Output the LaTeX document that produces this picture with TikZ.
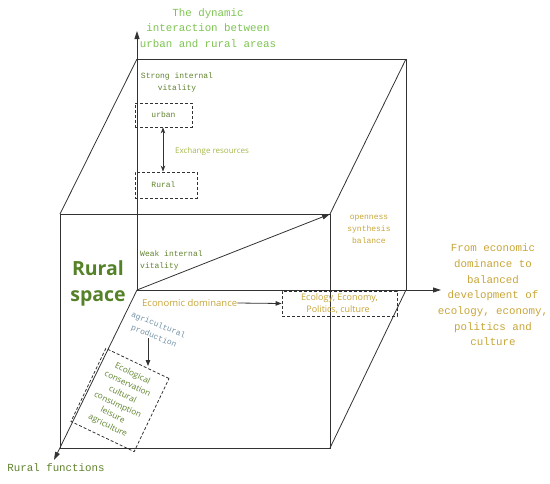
\documentclass[tikz,border=0pt]{standalone}
\usepackage{fontspec}
\setmainfont{Open Sans}
\newfontfamily\monof{Liberation Mono}
\usetikzlibrary{arrows.meta}
\definecolor{linec}{RGB}{50,50,50}
\definecolor{titleg}{RGB}{125,195,80}
\definecolor{oliveg}{RGB}{95,130,45}
\definecolor{darkg}{RGB}{85,130,40}
\definecolor{yellg}{RGB}{165,185,75}
\definecolor{goldc}{RGB}{200,165,55}
\definecolor{steelc}{RGB}{115,145,165}
\tikzset{
  edge/.style={draw=linec, line width=0.8pt},
  axis/.style={edge, -{Triangle[length=8pt,width=5pt]}},
  dbox/.style={draw=linec, dashed, dash pattern=on 3pt off 2pt, line width=0.8pt, inner sep=0pt, align=center},
  monotxt/.style={font=\monof\fontsize{8}{12}\selectfont, align=center, inner sep=0pt},
  bigmono/.style={font=\monof\fontsize{10.8}{15.7}\selectfont, align=center, inner sep=0pt},
  sanstxt/.style={font=\fontsize{8.5}{11}\selectfont, align=center, inner sep=0pt},
}
\begin{document}
\begin{tikzpicture}[x=1pt,y=-1pt]
\useasboundingbox (0,0) rectangle (550,483);
% cube corners
\coordinate (O) at (137,290);
\coordinate (Btl) at (137,59);
\coordinate (Btr) at (406,59);
\coordinate (Bbr) at (406,290);
\coordinate (Ftl) at (60,214);
\coordinate (Ftr) at (330,214);
\coordinate (Fbr) at (330,448);
\coordinate (Fbl) at (60,448);
\coordinate (Ytip) at (137,31);
\coordinate (Xtip) at (441,290);
\coordinate (Ztip) at (54,460);
% cube edges
\draw[edge] (Btl) -- (Btr) -- (Bbr);
\draw[edge] (Ftl) rectangle (Fbr);
\draw[edge] (Btl) -- (Ftl);
\draw[edge] (Btr) -- (Ftr);
\draw[edge] (Bbr) -- (Fbr);
% axes
\draw[axis] (O) -- (Ytip);
\draw[axis] (O) -- (Xtip);
\draw[axis] (O) -- (Ztip);
\draw[axis] (O) -- (Ftr);
% axis labels
\node[bigmono, text=titleg] (title) at (208,28) {The dynamic\\interaction between\\urban and rural areas};
\node[bigmono, text=goldc] (right) at (493,295) {From economic\\dominance to\\balanced\\development of\\ecology, economy,\\politics and\\culture};
\node[bigmono, text=oliveg] (rf) at (56,468) {Rural functions};
% vertical axis content
\node[monotxt, text=oliveg] (strong) at (177,82) {Strong internal\\vitality};
\node[dbox, minimum width=57pt, minimum height=24pt, text=oliveg, font=\monof\fontsize{8}{12}\selectfont] (urban) at (163.5,115) {urban};
\node[dbox, minimum width=62pt, minimum height=26pt, text=oliveg, font=\monof\fontsize{8}{12}\selectfont] (rural) at (166,185) {Rural\hspace*{5pt}};
\draw[edge, {Stealth[length=6pt,width=4.5pt]}-{Stealth[length=6pt,width=4.5pt]}] (urban.south -| 163,0) -- (rural.north -| 163,0);
\node[sanstxt, text=yellg, font=\fontsize{8}{10}\selectfont] (exch) at (212,151) {Exchange resources};
% front / origin content
\node[font=\bfseries\fontsize{19.5}{26}\selectfont, text=darkg, align=center, inner sep=0pt] (rs) at (98,283) {Rural\\space};
\node[monotxt, text=oliveg, align=left, anchor=west] (weak) at (140,260.5) {Weak internal\\vitality};
\node[monotxt, text=goldc] (open) at (369,229) {openness\\synthesis\\balance};
% economic
\node[sanstxt, text=goldc, font=\fontsize{9.5}{12}\selectfont, anchor=west] (eco) at (142,303) {Economic dominance};
\node[dbox, minimum width=115pt, minimum height=25pt, text=goldc, font=\fontsize{9}{11.5}\selectfont] (ecobox) at (339.5,303.5) {Ecology, Economy,\\Politics, culture\hspace*{3pt}};
\draw[edge, -{Triangle[length=6pt,width=4.5pt]}] (eco.east) -- (ecobox.west);
% rural functions
\node[monotxt, text=steelc, rotate=-22] (agri) at (156,331) {agricultural\\production};
\node[dbox, minimum width=70pt, minimum height=81pt, rotate=-25.5, text=oliveg, font=\fontsize{8.3}{11.5}\selectfont] (fbox) at (120,400) {Ecological\\conservation\\cultural\\consumption\\leisure\\agriculture};
\coordinate (agriend) at (148,338);
\draw[edge, -{Triangle[length=6pt,width=4.5pt]}] (agriend) -- (148,366);
\end{tikzpicture}
\end{document}
